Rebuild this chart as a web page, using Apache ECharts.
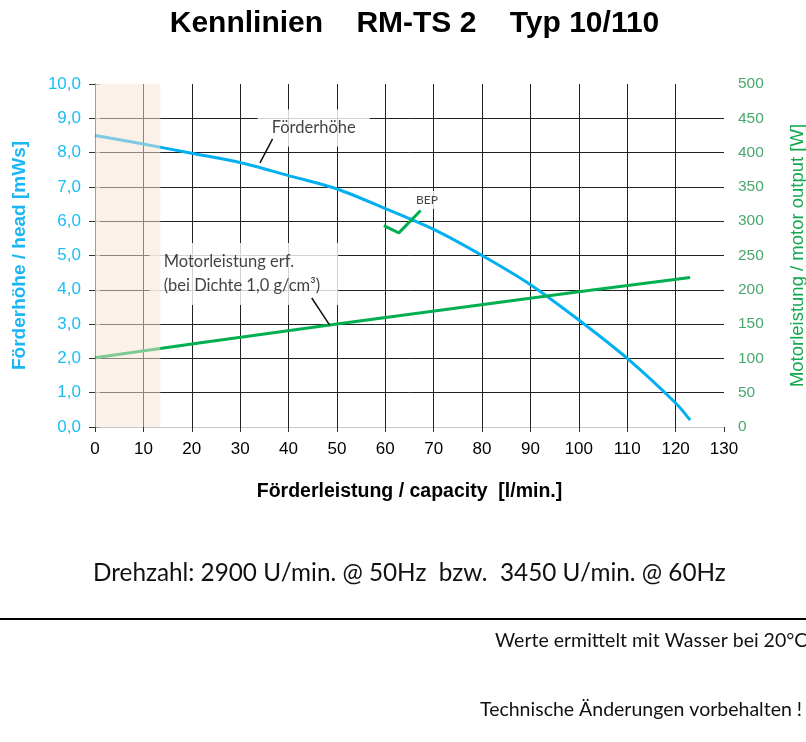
<!DOCTYPE html>
<html>
<head>
<meta charset="utf-8">
<script src="https://cdn.jsdelivr.net/npm/echarts@6/dist/echarts.min.js"></script>
<style>
html,body{margin:0;padding:0;background:#fff;overflow:hidden;}
#chart{width:806px;height:742px;}
</style>
</head>
<body>
<div id="chart"></div>
<script>
// ---- data ----
const flowTicks = [0,10,20,30,40,50,60,70,80,90,100,110,120,130];
const headFlow = [0, 10, 20, 30, 40, 50, 60, 70, 80, 90, 100, 110, 120, 123];
const head     = [8.5, 8.25, 7.98, 7.71, 7.33, 6.94, 6.37, 5.76, 5.0, 4.15, 3.12, 2.0, 0.7, 0.2];
const powerFlow = [0, 20, 50, 100, 123];
const power     = [101, 121, 150, 197, 218];
const shadeRange = [0, 13.5];
const bepX = [59.7, 62.8, 67.3];
const bepY = [5.87, 5.66, 6.31];
const headLeaderX = [34.1, 36.7];
const headLeaderY = [7.70, 8.40];
const powerLeaderX = [44.8, 48.5];
const powerLeaderY = [3.76, 2.97];
const headLabelPos = [45.2, 8.72];
const powerLabelPos = [11.3, 4.46];
const bepLabelPos = [68.6, 6.62];

const titleText = 'Kennlinien    RM-TS 2    Typ 10/110';
const xName = 'Förderleistung / capacity  [l/min.]';
const yLeftName = 'Förderhöhe / head [mWs]';
const yRightName = 'Motorleistung / motor output [W]';
const noteSpeed = 'Drehzahl: 2900 U/min. @ 50Hz  bzw.  3450 U/min. @ 60Hz';
const noteWater = 'Werte ermittelt mit Wasser bei 20°C';
const noteTech = 'Technische Änderungen vorbehalten !';

const zip = (a, b) => a.map((v, i) => [v, b[i]]);
const AR = 'Liberation Sans, Arial, sans-serif';
const CAL = 'Lato, "Open Sans", sans-serif';

const chart = echarts.init(document.getElementById('chart'), null, {renderer: 'canvas', width: 806, height: 742});
chart.setOption({
  animation: false,
  backgroundColor: '#fff',
  grid: {left: 95, width: 629, top: 84, height: 343, containLabel: false, outerBoundsMode: 'none'},
  xAxis: [{
    type: 'value', min: 0, max: 130, interval: 10,
    name: xName, nameLocation: 'middle', nameGap: 55,
    nameTextStyle: {fontFamily: AR, fontSize: 19.5, fontWeight: 'bold', color: '#000'},
    axisLine: {show: true, onZero: false, lineStyle: {color: '#555', width: 1}},
    axisTick: {show: true, length: 5, lineStyle: {color: '#333'}},
    axisLabel: {margin: 14, fontFamily: AR, fontSize: 17, color: '#000'},
    splitLine: {show: true, showMinLine: false, showMaxLine: false, lineStyle: {color: '#222', width: 1}}
  }, {
    type: 'value', min: 0, max: 130, position: 'top',
    axisLine: {show: true, lineStyle: {color: '#c8c8c8'}},
    axisTick: {show: false}, axisLabel: {show: false}, splitLine: {show: false}
  }],
  yAxis: [{
    type: 'value', min: 0, max: 10, interval: 1, position: 'left',
    name: yLeftName, nameLocation: 'middle', nameGap: 66, nameRotate: 90,
    nameTextStyle: {fontFamily: AR, fontSize: 19, fontWeight: 'bold', color: '#1cb6f2'},
    axisLine: {show: true, lineStyle: {color: '#333', width: 1}},
    axisTick: {show: true, length: 6, lineStyle: {color: '#333'}},
    axisLabel: {margin: 14, fontFamily: AR, fontSize: 17, color: '#1cbcf5',
      formatter: v => v.toFixed(1).replace('.', ',')},
    splitLine: {show: true, showMinLine: false, showMaxLine: false, lineStyle: {color: '#222', width: 1}}
  }, {
    type: 'value', min: 0, max: 500, interval: 50, position: 'right',
    name: yRightName, nameLocation: 'middle', nameGap: 64, nameRotate: 90,
    nameTextStyle: {fontFamily: AR, fontSize: 18.5, color: '#12a84e'},
    axisLine: {show: true, lineStyle: {color: '#a0a0a0', width: 1}},
    axisTick: {show: true, length: 5, lineStyle: {color: '#a0a0a0'}},
    axisLabel: {margin: 14, fontFamily: AR, fontSize: 15.5, color: '#48a86c'},
    splitLine: {show: false}
  }],
  series: [
    {
      type: 'line', name: 'head', xAxisIndex: 0, yAxisIndex: 0,
      data: zip(headFlow, head), smooth: 0.3, symbol: 'none',
      lineStyle: {color: '#00b0f0', width: 3}, z: 3
    },
    {
      type: 'line', name: 'power', xAxisIndex: 0, yAxisIndex: 1,
      data: zip(powerFlow, power), smooth: false, symbol: 'none',
      lineStyle: {color: '#00b050', width: 3}, z: 3
    },
    {
      type: 'line', name: 'bep', xAxisIndex: 0, yAxisIndex: 0,
      data: zip(bepX, bepY), symbol: 'none',
      lineStyle: {color: '#00b050', width: 3}, z: 4
    },
    {
      type: 'line', xAxisIndex: 0, yAxisIndex: 0,
      data: zip(headLeaderX, headLeaderY), symbol: 'none',
      lineStyle: {color: '#111', width: 1.5}, z: 4
    },
    {
      type: 'line', xAxisIndex: 0, yAxisIndex: 0,
      data: zip(powerLeaderX, powerLeaderY), symbol: 'none',
      lineStyle: {color: '#111', width: 1.5}, z: 4
    },
    {
      type: 'scatter', xAxisIndex: 0, yAxisIndex: 0, symbolSize: 0, silent: true, z: 2,
      data: [
        {value: headLabelPos, label: {formatter: 'Förderhöhe', padding: [10, 14, 10, 14], fontSize: 16.5}},
        {value: powerLabelPos, label: {formatter: 'Motorleistung erf.\n(bei Dichte 1,0 g/cm³)', padding: [7, 18, 7, 14], fontSize: 16.5, lineHeight: 24, align: 'left'}},
        {value: bepLabelPos, label: {formatter: 'BEP', padding: [3, 4, 3, 4], fontSize: 12}}
      ],
      label: {show: true, position: 'inside', color: '#111', fontFamily: CAL, backgroundColor: '#fff'}
    },
    {
      type: 'custom', xAxisIndex: 0, yAxisIndex: 0, z: 10, silent: true,
      data: [shadeRange],
      renderItem: function (params, api) {
        const p0 = api.coord([api.value(0), 10]);
        const p1 = api.coord([api.value(1), 0]);
        return {
          type: 'rect',
          shape: {x: p0[0] + 1, y: p0[1], width: p1[0] - p0[0] - 1, height: p1[1] - p0[1]},
          style: {fill: 'rgba(250,228,211,0.5)'}
        };
      }
    }
  ],
  graphic: [
    {type: 'text', x: 414.5, y: 9, style: {text: titleText, font: 'bold 30px ' + AR, fill: '#000', align: 'center', verticalAlign: 'top'}},
    {type: 'text', x: 93, y: 561, style: {text: noteSpeed, font: '24.3px ' + CAL, fill: '#111', verticalAlign: 'top'}},
    {type: 'line', shape: {x1: 0, y1: 619, x2: 806, y2: 619}, style: {stroke: '#000', lineWidth: 2}},
    {type: 'text', x: 495, y: 631, style: {text: noteWater, font: '19.5px ' + CAL, fill: '#111', verticalAlign: 'top'}},
    {type: 'text', x: 480, y: 700, style: {text: noteTech, font: '19.5px ' + CAL, fill: '#111', verticalAlign: 'top'}}
  ]
});
</script>
</body>
</html>
